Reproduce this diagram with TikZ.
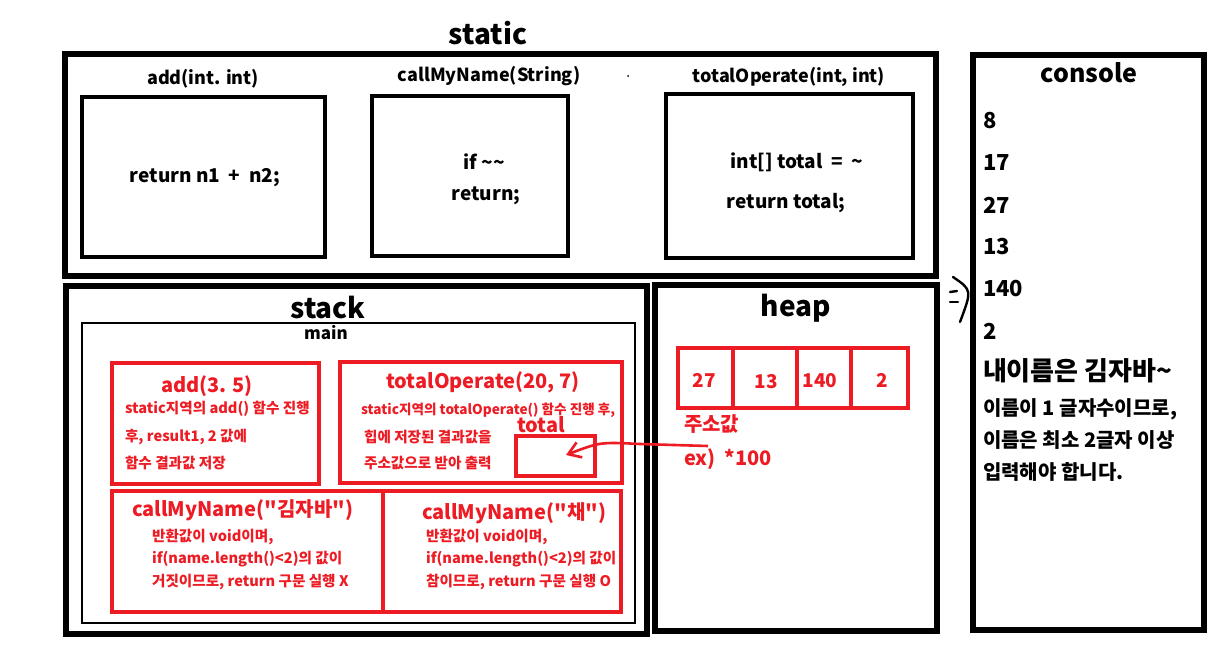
\documentclass[tikz,border=0pt]{standalone}
\usepackage{fontspec}
\setmainfont{Noto Sans CJK KR}
\newfontfamily\plainkr{Noto Sans CJK KR}
\usepackage{tikz}
\usetikzlibrary{arrows.meta}
\definecolor{paintred}{HTML}{ED1C24}

\tikzset{
	area/.style={draw=black, line width=2.6pt},
	codebox/.style={draw=black, line width=2.4pt},
	mainbox/.style={draw=black, line width=1.3pt},
	framebox/.style={draw=paintred, line width=2.2pt},
	areatitle/.style={font=\bfseries\fontsize{14}{16}\selectfont},
	methodlabel/.style={font=\bfseries\fontsize{9}{11}\selectfont},
	codetext/.style={font=\bfseries\fontsize{9.5}{11}\selectfont},
	calltitle/.style={text=paintred, font=\bfseries\fontsize{10}{12}\selectfont},
	callnote/.style={text=paintred, anchor=west, font=\bfseries\fontsize{7.3}{8}\selectfont},
	cellvalue/.style={text=paintred, font=\bfseries\fontsize{9.5}{11}\selectfont},
	consoleout/.style={anchor=west, font=\bfseries\fontsize{11}{13}\selectfont},
	consolemsg/.style={anchor=west, font=\bfseries\fontsize{10}{12}\selectfont}
}
\newcommand{\dq}{{\plainkr\bfseries "}}

\begin{document}
\begin{tikzpicture}[x=0.5pt, y=-0.5pt]
	\fill[white] (0,0) rectangle (1226,648);
	\useasboundingbox (0,0) rectangle (1226,648);

	% static area
	\node[areatitle] (statictitle) at (488,33) {static};
	\draw[area] (65,54) rectangle (936,276);
	\node[methodlabel] (addsig) at (203,79) {add(int. int)};
	\node[methodlabel] (callsig) at (489,76) {callMyName(String)};
	\node[methodlabel] (totalsig) at (789,77) {totalOperate(int, int)};
	\fill (628,76) circle (1);
	\draw[codebox] (82,97) rectangle (325,257);
	\draw[codebox] (372,96) rectangle (568,256);
	\draw[codebox] (666,94) rectangle (913,258);
	\node[codetext] (addbody) at (205,178) {return n1 \ + \ n2;};
	\node[codetext] (callif) at (484,162) {if \textasciitilde\textasciitilde};
	\node[codetext] (callret) at (486,196) {return;};
	\node[codetext] (totalarr) at (797,162) {int[] total \ = \ \textasciitilde};
	\node[codetext] (totalret) at (786,203) {return total;};

	% stack area
	\draw[area] (66,286) rectangle (647,634);
	\node[areatitle] (stacktitle) at (328,308) {stack};
	\draw[mainbox] (82,323) rectangle (635,623);
	\node[font=\bfseries\fontsize{8.5}{10}\selectfont] (maintitle) at (326,333) {main};

	\draw[framebox] (112,363) rectangle (319,484);
	\node[calltitle] (addcall) at (207,386) {add(3. 5)};
	\node[callnote] (addnote1) at (118,409) {static지역의 add() 함수 진행};
	\node[callnote] (addnote2) at (118,437) {후, result1, 2 값에};
	\node[callnote] (addnote3) at (118,463) {함수 결과값 저장};

	\draw[framebox] (340,362) rectangle (622,483);
	\node[calltitle] (totalcall) at (483,382) {totalOperate(20, 7)};
	\node[callnote, font=\bfseries\fontsize{6.8}{8}\selectfont] (totalnote1) at (354,410) {static지역의 totalOperate() 함수 진행 후,};
	\node[callnote] (totalnote2) at (357,437) {힙에 저장된 결과값을};
	\node[callnote] (totalnote3) at (357,463) {주소값으로 받아 출력};
	\node[calltitle] (totallabel) at (541,425) {total};
	\node[draw=paintred, line width=1.6pt, minimum width=39.5pt, minimum height=20pt] (totalcell) at (555.5,456) {};

	\draw[framebox] (112,491) rectangle (383,612);
	\draw[framebox] (383,491) rectangle (621,612);
	\node[calltitle, anchor=west] (callkim) at (125,510) {callMyName(\dq 김자바\dq)};
	\node[callnote] (kimnote1) at (145,537) {반환값이 void이며,};
	\node[callnote] (kimnote2) at (145,559) {if(name.length()<2)의 값이};
	\node[callnote] (kimnote3) at (145,582) {거짓이므로, return 구문 실행 X};
	\node[calltitle, anchor=west] (callchae) at (415,513) {callMyName(\dq 채\dq)};
	\node[callnote] (chaenote1) at (419,537) {반환값이 void이며,};
	\node[callnote] (chaenote2) at (419,559) {if(name.length()<2)의 값이};
	\node[callnote] (chaenote3) at (419,582) {참이므로, return 구문 실행 O};

	% heap area
	\draw[area] (655,285) rectangle (937,631);
	\node[areatitle] (heaptitle) at (796,308) {heap};
	\draw[framebox] (678,348) rectangle (908,408);
	\foreach \xcut in {733,797,851}
		\draw[framebox] (\xcut,348) -- (\xcut,408);
	\node[cellvalue] (cell0) at (704,380) {27};
	\node[cellvalue] (cell1) at (766,382) {13};
	\node[cellvalue] (cell2) at (820,381) {140};
	\node[cellvalue] (cell3) at (882,380) {2};
	\node[calltitle, anchor=west] (addrlabel) at (677,424) {주소값};
	\node[calltitle, anchor=west] (addrex) at (677,459) {ex) \ *100};
	\coordinate (ptr) at (708,446);
	\coordinate (tip) at (566,455);
	\draw[paintred, line width=1.3pt, -{Straight Barb[length=6pt, width=8pt]}]
		(ptr) -- (640,444) .. controls (600,442) .. (tip);

	% console
	\draw[area] (973,55) rectangle (1204,630);
	\node[font=\bfseries\fontsize{12.5}{14}\selectfont] (consoletitle) at (1089,73) {console};
	\node[consoleout] (out1) at (976,121) {8};
	\node[consoleout] (out2) at (976,163) {17};
	\node[consoleout] (out3) at (976,205) {27};
	\node[consoleout] (out4) at (976,247) {13};
	\node[consoleout] (out5) at (976,289) {140};
	\node[consoleout] (out6) at (976,331) {2};
	\node[consoleout, font=\bfseries\fontsize{13}{15}\selectfont] (out7) at (976,371) {내이름은 김자바\textasciitilde};
	\node[consolemsg] (out8) at (976,409) {이름이 1 글자수이므로,};
	\node[consolemsg] (out9) at (976,440) {이름은 최소 2글자 이상};
	\node[consolemsg] (out10) at (976,472) {입력해야 합니다.};

	% hand-drawn mark between heap and console
	\draw[line width=1.2pt, line cap=round] (950,292) -- (957,291);
	\draw[line width=1.2pt, line cap=round] (950,302) -- (958,302);
	\draw[line width=1.2pt, line cap=round] (953,277) .. controls (972,290) .. (960,322);
\end{tikzpicture}
\end{document}
